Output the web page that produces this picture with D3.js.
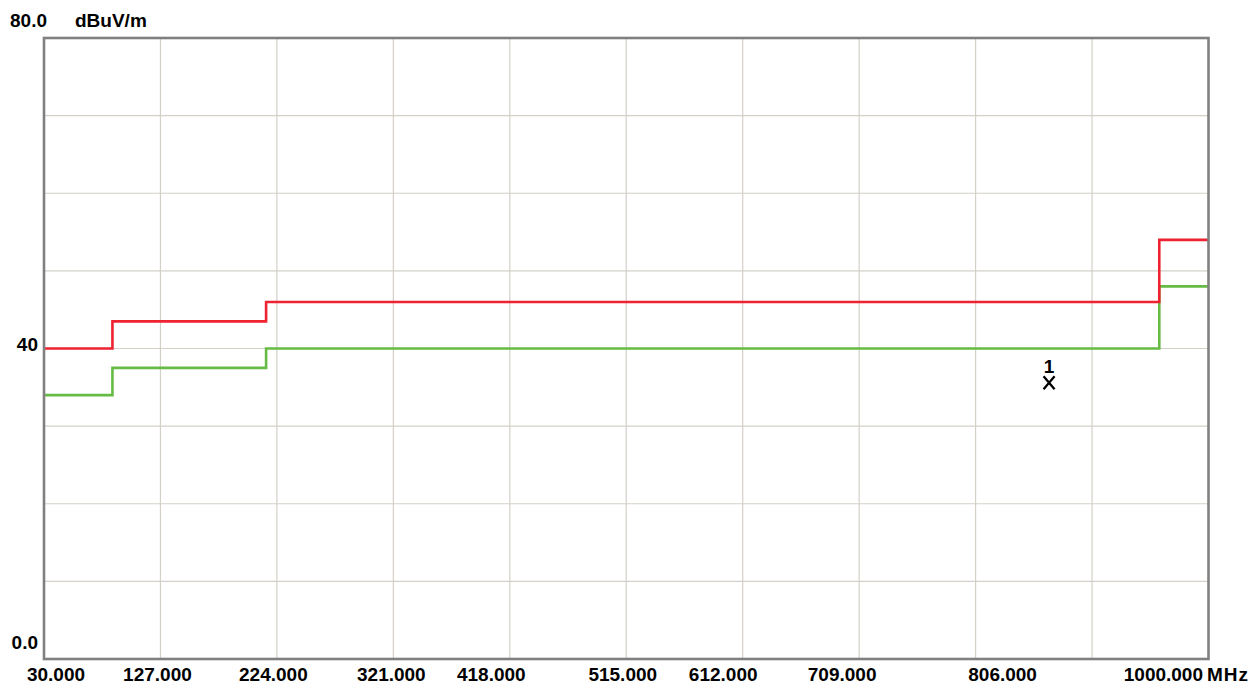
<!DOCTYPE html>
<html>
<head>
<meta charset="utf-8">
<script src="https://cdn.jsdelivr.net/npm/d3@7"></script>
<style>
  html, body { margin: 0; padding: 0; background: #ffffff; }
  svg { display: block; }
  text { font-family: "Liberation Sans", Arial, sans-serif; font-weight: bold; font-size: 19px; fill: #000; }
</style>
</head>
<body>
<svg id="chart" width="1260" height="687"></svg>
<script>
// Axis ranges and labels
const freqDomain = [30, 1000];
const levelDomain = [0, 80];
const xGridStep = 97;
const yGridStep = 10;
const xTickLabels = [30, 127, 224, 321, 418, 515, 612, 709, 806, 1000];
const yTickLabels = [80, 40, 0];
const yTickText = ["80.0", "40", "0.0"];
const unitY = "dBuV/m";
const unitX = "MHz";

// Limit line (red) and margin line (green), stepped by frequency band
const bandStartFreqs = [30, 87, 215, 959];
const bandEndFreq = 1000;
const limitLevels = [40, 43.5, 46, 54];
const marginLevels = [34, 37.5, 40, 48];

// Peak marker
const markerIds = ["1"];
const markerFreqs = [867.2];
const markerLevels = [35.6];

// ---- layout ----
const plot = { left: 44, right: 1208.5, top: 38, bottom: 659 };
const svg = d3.select("#chart");

const x = d3.scaleLinear().domain(freqDomain).range([plot.left, plot.right]);
const y = d3.scaleLinear().domain(levelDomain).range([plot.bottom, plot.top]);

// grid
const gridColor = "#d4d0c8";
const xGrid = d3.range(freqDomain[0] + xGridStep, freqDomain[1], xGridStep);
const yGrid = d3.range(levelDomain[0] + yGridStep, levelDomain[1], yGridStep);

svg.append("g").selectAll("line").data(xGrid).join("line")
  .attr("x1", d => x(d)).attr("x2", d => x(d))
  .attr("y1", plot.top).attr("y2", plot.bottom)
  .attr("stroke", gridColor).attr("stroke-width", 1.2);

svg.append("g").selectAll("line").data(yGrid).join("line")
  .attr("x1", plot.left).attr("x2", plot.right)
  .attr("y1", d => y(d)).attr("y2", d => y(d))
  .attr("stroke", gridColor).attr("stroke-width", 1.2);

// stepped limit lines
function stepPoints(levels) {
  const pts = bandStartFreqs.map((f, i) => [f, levels[i]]);
  pts.push([bandEndFreq, levels[levels.length - 1]]);
  return pts;
}
const stepLine = d3.line().x(d => x(d[0])).y(d => y(d[1])).curve(d3.curveStepAfter);

svg.append("path").datum(stepPoints(marginLevels))
  .attr("d", stepLine).attr("fill", "none")
  .attr("stroke", "#66bb44").attr("stroke-width", 2.6);

svg.append("path").datum(stepPoints(limitLevels))
  .attr("d", stepLine).attr("fill", "none")
  .attr("stroke", "#ee2230").attr("stroke-width", 2.6);

// plot frame
svg.append("rect")
  .attr("x", plot.left).attr("y", plot.top)
  .attr("width", plot.right - plot.left).attr("height", plot.bottom - plot.top)
  .attr("fill", "none").attr("stroke", "#808080").attr("stroke-width", 2.6);

// marker
const markers = markerIds.map((id, i) => ({ id, f: markerFreqs[i], v: markerLevels[i] }));
const mg = svg.append("g").selectAll("g").data(markers).join("g")
  .attr("transform", d => `translate(${x(d.f)},${y(d.v)})`);
mg.append("path")
  .attr("d", "M-5.5,-6.5L5.5,6.5M5.5,-6.5L-5.5,6.5")
  .attr("stroke", "#000").attr("stroke-width", 2.3).attr("fill", "none");
mg.append("text").attr("text-anchor", "middle").attr("y", -10).text(d => d.id);

// x tick labels
const fmtX = d3.format(".3f");
const labelShift = { 30: 12, 127: -3, 224: -3.5, 321: -2, 418: -18.5, 515: -3.5, 612: -19.5, 709: -17, 806: 27 };
svg.append("g").selectAll("text").data(xTickLabels).join("text")
  .attr("x", d => d === freqDomain[1] ? x(d) - 5.5 : x(d) + labelShift[d])
  .attr("y", 681)
  .attr("text-anchor", d => d === freqDomain[1] ? "end" : "middle")
  .text(d => fmtX(d));
svg.append("text").attr("x", x(freqDomain[1]) - 1.5).attr("y", 681)
  .attr("letter-spacing", 1).text(unitX);

// y tick labels
svg.append("g").selectAll("text").data(yTickLabels).join("text")
  .attr("x", (d, i) => i === 0 ? 10 : 38)
  .attr("y", (d, i) => i === 0 ? 27 : i === 1 ? y(d) + 2 : y(d) - 10.5)
  .attr("text-anchor", (d, i) => i === 0 ? "start" : "end")
  .text((d, i) => yTickText[i]);
svg.append("text").attr("x", 75).attr("y", 27).text(unitY);
</script>
</body>
</html>
